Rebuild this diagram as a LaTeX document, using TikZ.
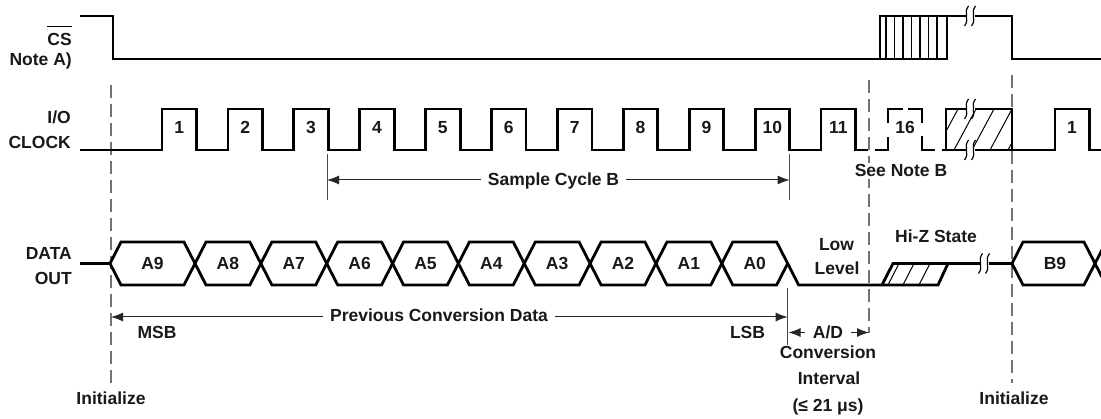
\documentclass[tikz,border=0pt]{standalone}
\usepackage{fontspec}
\setmainfont{Liberation Sans}
\usetikzlibrary{arrows.meta}
\newcommand\brkmark[2]{%
  \fill[white] ({#1-4.5},{#2-2.5}) rectangle ({#1+4.5},{#2+2.5});
  \draw[line width=1.2pt] ({#1-1.5},{#2-10}) .. controls ({#1-7},{#2-3}) and ({#1},{#2+3}) .. ({#1-5.5},{#2+10});
  \draw[line width=1.2pt] ({#1+5.5},{#2-10}) .. controls ({#1},{#2-3}) and ({#1+7},{#2+3}) .. ({#1+1.5},{#2+10});
}
\begin{document}
\begin{tikzpicture}[x=1pt,y=-1pt,
  sig/.style={line width=2.8pt, line join=miter, black},
  guide/.style={line width=1.2pt, black!55, dash pattern=on 13pt off 6pt},
  thinline/.style={line width=1pt, black!70},
  dim/.style={line width=1pt, black!85, -{Latex[length=12pt,width=9pt]}},
  lbl/.style={font=\bfseries\fontsize{17.5}{20}\selectfont, text=black!90, inner sep=0pt},
  hatch/.style={line width=1pt, black}
]
\useasboundingbox (0,0) rectangle (1101,419);

% guide lines
\draw[guide] (111,85) -- (111,383);
\draw[guide] (869,80) -- (869,333);
\draw[guide] (1012,75) -- (1012,383);

% ---------- CS ----------
\node[lbl, anchor=base east] (cs) at (72,46) {CS};
\draw[line width=1.6pt] ([yshift=7pt]cs.north west) -- ([yshift=7pt]cs.north east);
\node[lbl, anchor=base east] (noteA) at (72,66) {Note A)};
\draw[sig] (80,16) -- (113,16) -- (113,59) -- (880,59) -- (880,16) -- (1012,16) -- (1012,59) -- (1101,59);
\draw[sig] (880,59) -- (947,59) -- (947,16);
\foreach \x in {886,894.5,903,911.5,920,928.5,937} \draw[line width=1.3pt] (\x,16) -- (\x,59);
\brkmark{970}{16}

% ---------- I/O CLOCK ----------
\node[lbl, anchor=base east] (io) at (71,124) {I/O};
\node[lbl, anchor=base east] (clk) at (71,149) {CLOCK};
\draw[sig] (80,150) \foreach \k in {0,...,10}{ -- ({162+65.9*\k},150) -- ({162+65.9*\k},109) -- ({196.5+65.9*\k},109) -- ({196.5+65.9*\k},150) } -- (868,150);
\foreach \k in {1,...,11} \node[lbl, anchor=base] (n\k) at ({179.25+65.9*(\k-1)},134) {\k};
% dashed pulse 16
\draw[sig] (875,150) -- (888,150) -- (888,137);
\draw[sig] (888,123) -- (888,109) -- (903,109);
\draw[sig] (908,109) -- (922,109) -- (922,123);
\draw[sig] (922,136) -- (922,150) -- (935,150);
\draw[sig] (942,150) -- (946,150);
\node[lbl, anchor=base] (n16) at (905,134) {16};
% hatched box
\begin{scope}
  \clip (946,109) rectangle (1012,150);
  \foreach \b in {918,936,954,972,990,1008} \draw[hatch] (\b,150) -- ({\b+22},109);
\end{scope}
\draw[sig] (946,150) -- (946,109) -- (1012,109) -- (1012,150) -- cycle;
\draw[sig] (1012,150) -- (1055,150) -- (1055,109) -- (1089.5,109) -- (1089.5,150) -- (1101,150);
\node[lbl, anchor=base] (n1b) at (1072,134) {1};
\brkmark{970}{109}
\brkmark{970}{150}
\node[lbl, anchor=base, fill=white, inner sep=2pt] (noteB) at (901,177) {See Note B};

% sample cycle
\draw[thinline] (327,154) -- (327,200);
\draw[thinline] (789.6,154) -- (789.6,200);
\coordinate (sc1) at (327,180);
\coordinate (sc2) at (789.6,180);
\node[lbl, anchor=base, inner xsep=7pt] (sct) at (553.5,186) {Sample Cycle B};
\draw[dim] (sc1 -| sct.west) -- (sc1);
\draw[dim] (sc2 -| sct.east) -- (sc2);

% ---------- DATA OUT ----------
\node[lbl, anchor=base east] (data) at (72,260) {DATA};
\node[lbl, anchor=base east] (out) at (72,285) {OUT};
\draw[sig] (80,263.5) -- (110,263.5);
\foreach \i/\lab in {0/A9,1/A8,2/A7,3/A6,4/A5,5/A4,6/A3,7/A2,8/A1,9/A0}{
  \pgfmathsetmacro\l{\i==0 ? 110 : 195+65.85*(\i-1)}
  \pgfmathsetmacro\r{195+65.85*\i}
  \draw[sig] (\l,263.5) -- ({\l+11},242) -- ({\r-11},242) -- (\r,263.5) -- ({\r-11},285) -- ({\l+11},285) -- cycle;
  \node[lbl, anchor=base] (d\i) at ({(\l+\r)/2},269.7) {\lab};
}
\draw[sig] (787.65,263.5) -- (798.65,285) -- (938,285) -- (948,263.5) -- (1012,263.5);
\draw[sig] (882,285) -- (893,263.5) -- (948,263.5);
\foreach \b in {888,903,919} \draw[hatch] (\b,285) -- ({\b+11},263.5);
\brkmark{984}{263.5}
\draw[sig] (1012,263.5) -- (1023,242) -- (1084,242) -- (1095,263.5) -- (1106,285);
\draw[sig] (1012,263.5) -- (1023,285) -- (1084,285) -- (1095,263.5) -- (1106,242);
\node[lbl, anchor=base] (b9) at (1055,269.7) {B9};
\node[lbl, anchor=base] (low) at (836.5,251) {Low};
\node[lbl, anchor=base] (level) at (837,275) {Level};
\node[lbl, anchor=base] (hiz) at (936,243) {Hi-Z State};

% previous conversion data
\draw[thinline] (787.65,288) -- (787.65,345);
\coordinate (pc1) at (111,317);
\coordinate (pc2) at (787.65,317);
\node[lbl, anchor=base, inner xsep=7pt] (pct) at (439,322) {Previous Conversion Data};
\draw[dim] (pc1 -| pct.west) -- (pc1);
\draw[dim] (pc2 -| pct.east) -- (pc2);
\node[lbl, anchor=base] (msb) at (157,339) {MSB};
\node[lbl, anchor=base] (lsb) at (747.5,339) {LSB};

% A/D conversion interval
\coordinate (ad1) at (788.5,332.5);
\coordinate (ad2) at (869,332.5);
\node[lbl, anchor=base, inner xsep=8pt] (adt) at (828,339) {A/D};
\draw[dim] (ad1 -| adt.west) -- (ad1);
\draw[dim] (ad2 -| adt.east) -- (ad2);
\node[lbl, anchor=base] (conv) at (828,359) {Conversion};
\node[lbl, anchor=base] (intv) at (829,385) {Interval};
\node[lbl, anchor=base] (lim) at (828,412) {(≤ 21 μs)};

% initialize
\node[lbl, anchor=base] (init1) at (111,405) {Initialize};
\node[lbl, anchor=base] (init2) at (1014,405) {Initialize};
\end{tikzpicture}
\end{document}
